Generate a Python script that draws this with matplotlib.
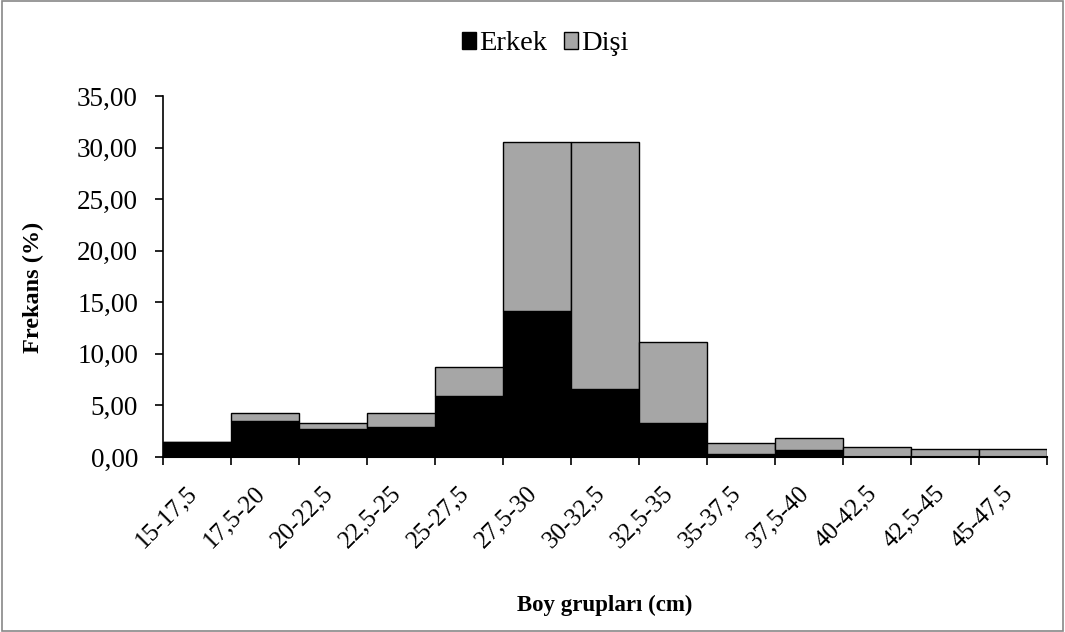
import numpy as np
import matplotlib
matplotlib.use('Agg')
import matplotlib.pyplot as plt
import matplotlib.transforms as mtransforms
from matplotlib.ticker import FuncFormatter

plt.rcParams['font.family'] = ['Liberation Serif', 'DejaVu Serif']

groups = ['15-17,5', '17,5-20', '20-22,5', '22,5-25', '25-27,5', '27,5-30', '30-32,5',
          '32,5-35', '35-37,5', '37,5-40', '40-42,5', '42,5-45', '45-47,5']
erkek = [1.5, 3.5, 2.7, 2.9, 5.95, 14.2, 6.6, 3.3, 0.25, 0.7, 0.0, 0.0, 0.0]
disi = [0.0, 0.8, 0.55, 1.4, 2.75, 16.3, 23.9, 7.85, 1.15, 1.1, 1.0, 0.8, 0.8]

fig = plt.figure(figsize=(10.65, 6.32), dpi=100)
ax = fig.add_axes([163/1065, 1-457/632, (1047-163)/1065, (457-96)/632])

x = np.arange(len(groups))
ax.bar(x, erkek, width=1.0, color='black', edgecolor='black', linewidth=1, label='Erkek')
ax.bar(x, disi, width=1.0, bottom=erkek, color='#a6a6a6', edgecolor='black', linewidth=1, label='Dişi')

ax.set_xlim(-0.5, len(groups) - 0.5)
ax.set_ylim(0, 35)
ax.set_yticks(np.arange(0, 36, 5))
ax.yaxis.set_major_formatter(FuncFormatter(lambda v, p: f'{v:.2f}'.replace('.', ',')))

# ticks on bar boundaries, rotated labels near bar centres
ax.set_xticks(np.arange(-0.5, len(groups)))
ax.set_xticklabels([])
ax.tick_params(axis='x', length=6, width=1.2, direction='out')
ax.tick_params(axis='y', length=6, width=1.2, direction='out', labelsize=19.5, pad=12)
offset = mtransforms.ScaledTranslation(-11/100, -25/100, fig.dpi_scale_trans)
for xi, g in zip(x, groups):
    ax.text(xi, 0, g, transform=ax.get_xaxis_transform() + offset, rotation=45,
            ha='right', va='top', rotation_mode='anchor', fontsize=18)

for s in ['top', 'right']:
    ax.spines[s].set_visible(False)
ax.spines['left'].set_linewidth(1.2)
ax.spines['bottom'].set_linewidth(1.5)

fig.text(33/1065, 1-287/632, 'Frekans (%)', rotation=90, ha='center', va='center',
         fontsize=17.5, fontweight='bold')
fig.text(605/1065, 1-605/632, 'Boy grupları (cm)', ha='center', va='center',
         fontsize=16.5, fontweight='bold')

fig.legend(loc='center', bbox_to_anchor=(545/1065, 1-44/632), ncol=2, frameon=False,
           fontsize=20.5, handlelength=0.5, handleheight=0.5, handletextpad=0.1,
           columnspacing=0.6)

fig.patches.append(plt.Rectangle((0.002, 0.002), 0.996, 0.996, transform=fig.transFigure,
                                 fill=False, edgecolor='#888888', linewidth=1.2))

fig.savefig('out.png', dpi=100)
